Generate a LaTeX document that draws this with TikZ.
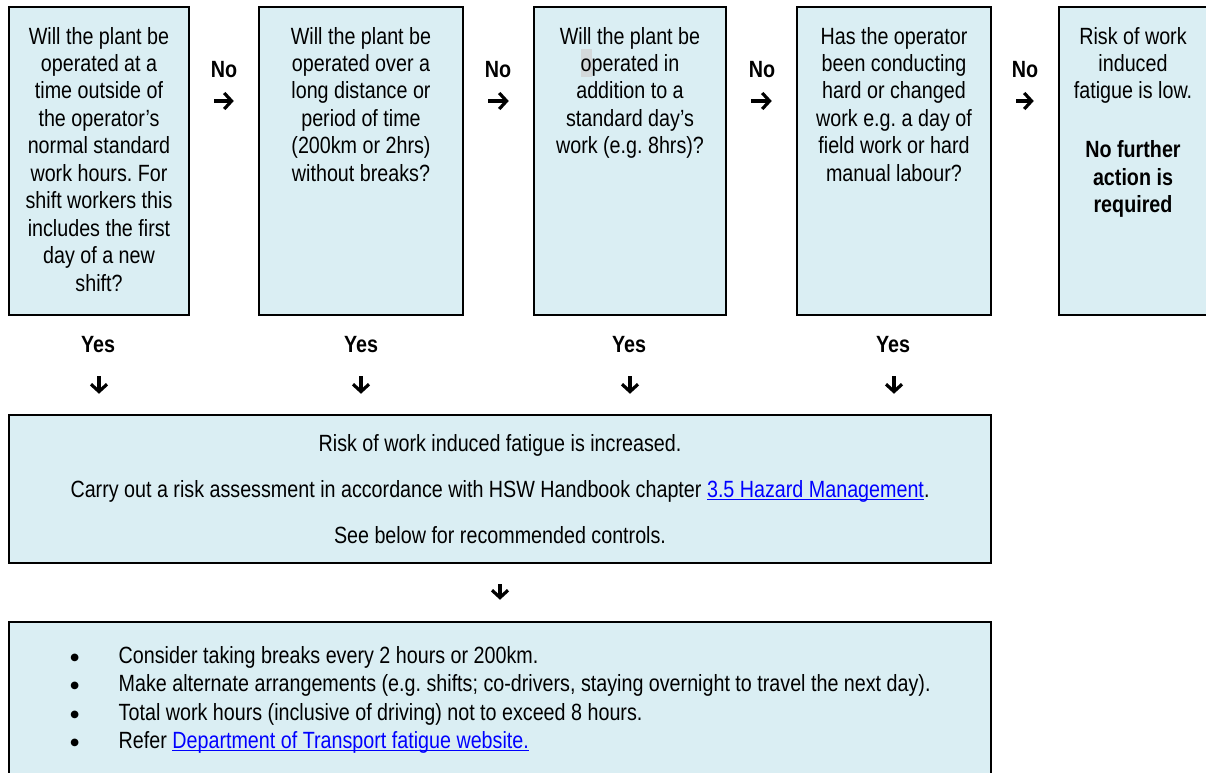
\documentclass[tikz,border=0pt]{standalone}
\usepackage{fontspec}
\setmainfont{Liberation Sans}[FakeStretch=0.84]
\newfontfamily\symfont{DejaVu Sans}
\usepackage{xcolor}
\usepackage{tikz}
\usetikzlibrary{arrows.meta,positioning}

\definecolor{boxblue}{HTML}{DAEEF3}
\definecolor{linkblue}{HTML}{0000FF}
\definecolor{markgrey}{HTML}{D3D8DA}

\frenchspacing
\newcommand{\bodyfont}{\fontsize{17.6}{20.6}\selectfont}
\newcommand{\weblink}[1]{\textcolor{linkblue}{\setbox0\hbox{#1}\rlap{\rule[-1.9pt]{\wd0}{0.9pt}}\box0}}
\newcommand{\tipbullet}{\makebox[35.6pt][l]{\hspace{-0.6pt}\raisebox{2.2pt}{\symfont\fontsize{7.5}{7.5}\selectfont ●}}}

\tikzset{
  flowbox/.style={draw=black, line width=1.9pt, fill=boxblue, inner sep=0pt},
  boxtext/.style={align=center, inner sep=0pt, font=\bodyfont},
  lbl/.style={inner sep=0pt, font=\bodyfont\bfseries},
  flowarrow/.style={line width=2.4pt, -{Straight Barb[length=5.5pt, width=12pt]}},
  sidearrow/.style={flowarrow, shorten <=18pt, shorten >=18pt},
  downarrow/.style={flowarrow, shorten <=45pt, shorten >=15pt},
}

\begin{document}
\begin{tikzpicture}[x=0.75pt, y=-0.75pt]

\useasboundingbox (0,0) rectangle (1206,772);
\fill[white] (0,0) rectangle (1206,772);
\clip (0,0) rectangle (1206,772);

\node[flowbox, minimum width=135pt, minimum height=231pt] (q1) at (99,161) {};
\node[flowbox, minimum width=153pt, minimum height=231pt] (q2) at (361,161) {};
\node[flowbox, minimum width=144pt, minimum height=231pt] (q3) at (630,161) {};
\node[flowbox, minimum width=145.5pt, minimum height=231pt] (q4) at (894,161) {};
\node[flowbox, minimum width=117pt, minimum height=231pt] (low) at (1137,161) {};

\node[flowbox, minimum width=736.5pt, minimum height=111pt] (risk) at (500,489) {};
\node[flowbox, minimum width=736.5pt, minimum height=118.5pt] (ctrl) at (500,701) {};

\fill[markgrey] (581,49) rectangle (592,77);

\node[boxtext, anchor=north, below=15.75pt of q1.north] (t1) {Will the plant be\\operated at a\\time outside of\\the operator’s\\normal standard\\work hours. For\\shift workers this\\includes the first\\day of a new\\shift?};
\node[boxtext, anchor=north, below=15.75pt of q2.north] (t2) {Will the plant be\\operated over a\\long distance or\\period of time\\(200km or 2hrs)\\without breaks?};
\node[boxtext, anchor=north, below=15.75pt of q3.north] (t3) {Will the plant be\\operated in\\addition to a\\standard day’s\\work (e.g. 8hrs)?};
\node[boxtext, anchor=north, below=15.75pt of q4.north] (t4) {Has the operator\\been conducting\\hard or changed\\work e.g. a day of\\field work or hard\\manual labour?};
\node[boxtext, anchor=north, below=15.75pt of low.north, xshift=-3pt] (t5) {Risk of work\\induced\\fatigue is low.\\[23.6pt]\textbf{No further}\\\textbf{action is}\\\textbf{required}};

\node[boxtext] (t6) at (risk.center) {Risk of work induced fatigue is increased.\\[13.9pt]
  Carry out a risk assessment in accordance with HSW Handbook chapter \weblink{3.5 Hazard Management}.\\[13.9pt]
  See below for recommended controls.};

\node[boxtext, align=left, anchor=west] (t7) at (71,700) {%
  \tipbullet Consider taking breaks every 2 hours or 200km.\\[0.8pt]
  \tipbullet Make alternate arrangements (e.g. shifts; co-drivers, staying overnight to travel the next day).\\[0.8pt]
  \tipbullet Total work hours (inclusive of driving) not to exceed 8 hours.\\[0.8pt]
  \tipbullet Refer \weblink{Department of Transport fatigue website.}};

\node[lbl] (no1) at (224,70) {No};
\node[lbl] (no2) at (498,70) {No};
\node[lbl] (no3) at (762,70) {No};
\node[lbl] (no4) at (1025,70) {No};

\draw[sidearrow] (q1.east |- 0,101) -- (q2.west |- 0,101);
\draw[sidearrow] (q2.east |- 0,101) -- (q3.west |- 0,101);
\draw[sidearrow] (q3.east |- 0,101) -- (q4.west |- 0,101);
\draw[sidearrow] (q4.east |- 0,101) -- (low.west |- 0,101);

\node[lbl] (yes1) at (98,345) {Yes};
\node[lbl] (yes2) at (361,345) {Yes};
\node[lbl] (yes3) at (629,345) {Yes};
\node[lbl] (yes4) at (893,345) {Yes};

\draw[downarrow] (q1.south) -- (q1.south |- risk.north);
\draw[downarrow] (q2.south) -- (q2.south |- risk.north);
\draw[downarrow] (q3.south) -- (q3.south |- risk.north);
\draw[downarrow] (q4.south) -- (q4.south |- risk.north);

\draw[flowarrow, shorten <=15pt, shorten >=15.75pt] (risk.south) -- (ctrl.north);

\end{tikzpicture}
\end{document}
